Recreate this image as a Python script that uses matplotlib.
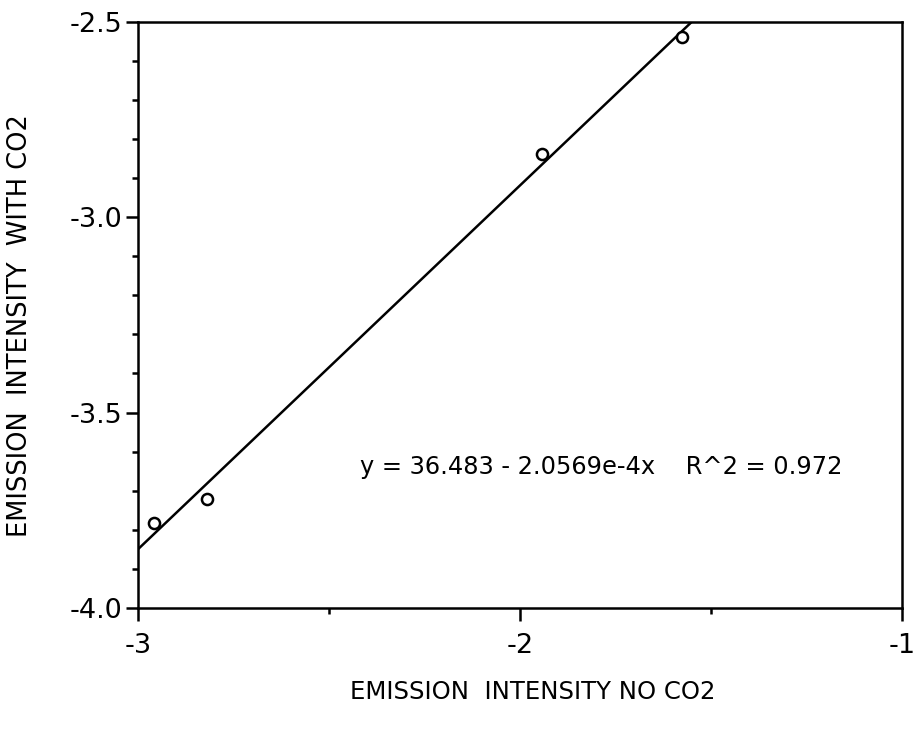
import numpy as np
import matplotlib
matplotlib.use("Agg")
import matplotlib.pyplot as plt
from matplotlib.ticker import MultipleLocator

# Data
x_no_co2 = [-2.957, -2.819, -1.941, -1.576]
y_with_co2 = [-3.782, -3.721, -2.839, -2.540]
equation_text = "y = 36.483 - 2.0569e-4x    R^2 = 0.972"
x_label = "EMISSION  INTENSITY NO CO2"
y_label = "EMISSION  INTENSITY  WITH CO2"
x_ticks = [-3, -2, -1]
x_ticklabels = ["-3", "-2", "-1"]
y_ticks = [-4.0, -3.5, -3.0, -2.5]
y_ticklabels = ["-4.0", "-3.5", "-3.0", "-2.5"]

plt.rcParams['font.family'] = ['DejaVu Sans']

fig = plt.figure(figsize=(9.17, 7.33), dpi=100)
ax = fig.add_axes([137.7/917, 1 - 608/733, (901.7-137.7)/917, (608-21.7)/733])

# regression line from the data
slope, intercept = np.polyfit(x_no_co2, y_with_co2, 1)
lx = np.array([-3.0, -1.0])
ax.plot(lx, slope*lx + intercept, color='black', lw=1.8)

ax.plot(x_no_co2, y_with_co2, linestyle='none', marker='o', markersize=8,
        markerfacecolor='white', markeredgecolor='black', markeredgewidth=1.8)

ax.set_xlim(-3, -1)
ax.set_ylim(-4.0, -2.5)
ax.set_xticks(x_ticks)
ax.set_xticklabels(x_ticklabels)
ax.set_yticks(y_ticks)
ax.set_yticklabels(y_ticklabels)
ax.xaxis.set_minor_locator(MultipleLocator(0.5))
ax.yaxis.set_minor_locator(MultipleLocator(0.1))

ax.tick_params(which='major', direction='out', length=9, width=1.8, labelsize=19.5,
               top=False, right=False)
ax.tick_params(axis='y', which='major', pad=2)
ax.tick_params(axis='x', which='major', pad=9)
ax.tick_params(which='minor', direction='out', length=4, width=1.8, top=False, right=False)
for s in ax.spines.values():
    s.set_linewidth(1.8)

ax.text(-2.418, -3.639, equation_text, ha='left', va='center', fontsize=17.4)

fig.text(533/917, 1 - 692/733, x_label, ha='center', va='center', fontsize=17.6)
fig.text(20/917, 1 - 326/733, y_label, ha='center', va='center', fontsize=18.5, rotation=90)

fig.savefig("out.png", dpi=100)
